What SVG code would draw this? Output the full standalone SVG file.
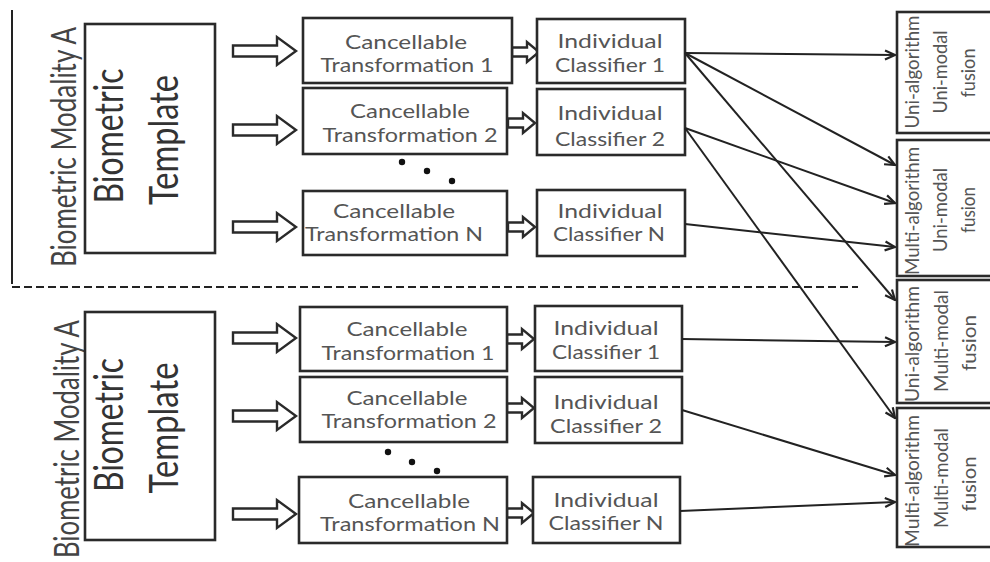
<svg xmlns="http://www.w3.org/2000/svg" width="990" height="562" viewBox="0 0 990 562">
<style>
.box{fill:#fff;stroke:#2a2a2a;stroke-width:2.6}
.barrow{fill:#fff;stroke:#2a2a2a;stroke-width:2.4;stroke-linejoin:miter}
.t{font-family:Lato,"Open Sans","Liberation Sans",sans-serif;font-size:19px;fill:#555;text-anchor:middle}
.big{font-family:Lato,"Open Sans","Liberation Sans",sans-serif;font-size:40px;fill:#333;text-anchor:middle}
.mod{font-family:Lato,"Open Sans","Liberation Sans",sans-serif;font-size:27px;fill:#444;text-anchor:middle}
.f{font-family:Lato,"Open Sans","Liberation Sans",sans-serif;font-size:19px;fill:#555;text-anchor:middle}
.conn{stroke:#222;stroke-width:2;fill:none;marker-end:url(#ah)}
.dot{fill:#111}
</style>
<defs>
<marker id="ah" viewBox="0 0 12 12" refX="11" refY="6" markerWidth="12" markerHeight="12" markerUnits="userSpaceOnUse" orient="auto">
<path d="M1,1.5 L11,6 L1,10.5" fill="none" stroke="#222" stroke-width="2.2"/>
</marker>
<path id="bigArrow" class="barrow" d="M0,-5.5 L44,-5.5 L44,-14 L63,0 L44,14 L44,5.5 L0,5.5 Z"/>
<path id="smallArrow" class="barrow" d="M0,-4.5 L15,-4.5 L15,-10 L27,0 L15,10 L15,4.5 L0,4.5 Z"/>
</defs>
<rect width="990" height="562" fill="#fff"/>

<g id="frame">
<line x1="12" y1="10" x2="12" y2="284" stroke="#222" stroke-width="2"/>
<line x1="12" y1="287" x2="858" y2="287" stroke="#222" stroke-width="2" stroke-dasharray="8,4"/>
</g>

<g id="labels">
<text class="mod" transform="translate(76,147) rotate(-90) scale(1,1.3)" textLength="240" lengthAdjust="spacingAndGlyphs">Biometric Modality A</text>
<text class="mod" transform="translate(79,439) rotate(-90) scale(1,1.3)" textLength="238" lengthAdjust="spacingAndGlyphs">Biometric Modality A</text>
</g>

<g id="template-top">
<rect class="box" x="85" y="24" width="130" height="229"/>
<text class="big" transform="translate(123,136) rotate(-90)" textLength="135" lengthAdjust="spacingAndGlyphs">Biometric</text>
<text class="big" transform="translate(178,140) rotate(-90)" textLength="130" lengthAdjust="spacingAndGlyphs">Template</text>
</g>
<g id="template-bottom">
<rect class="box" x="85" y="312" width="130" height="228"/>
<text class="big" transform="translate(123,425) rotate(-90)" textLength="134" lengthAdjust="spacingAndGlyphs">Biometric</text>
<text class="big" transform="translate(178,428) rotate(-90)" textLength="131" lengthAdjust="spacingAndGlyphs">Template</text>
</g>

<g id="block-arrows">
<use href="#bigArrow" x="233" y="51"/>
<use href="#bigArrow" x="233" y="130"/>
<use href="#bigArrow" x="233" y="227"/>
<use href="#bigArrow" x="233" y="338"/>
<use href="#bigArrow" x="233" y="416"/>
<use href="#bigArrow" x="233" y="514"/>
<use href="#smallArrow" x="512" y="52"/>
<use href="#smallArrow" x="508" y="123"/>
<use href="#smallArrow" x="508" y="227"/>
<use href="#smallArrow" x="507" y="339"/>
<use href="#smallArrow" x="507" y="408"/>
<use href="#smallArrow" x="507" y="513"/>
</g>

<g id="ct1-top">
<rect class="box" x="303" y="18" width="209" height="65"/>
<text class="t" x="406" y="49" textLength="122" lengthAdjust="spacingAndGlyphs">Cancellable</text>
<text class="t" x="407" y="72" textLength="173" lengthAdjust="spacingAndGlyphs">Transformation 1</text>
</g>
<g id="ct2-top">
<rect class="box" x="303" y="88" width="204" height="66"/>
<text class="t" x="410" y="118" textLength="120" lengthAdjust="spacingAndGlyphs">Cancellable</text>
<text class="t" x="410" y="142" textLength="175" lengthAdjust="spacingAndGlyphs">Transformation 2</text>
</g>
<g id="ctN-top">
<rect class="box" x="303" y="191" width="204" height="64"/>
<text class="t" x="394" y="218" textLength="122" lengthAdjust="spacingAndGlyphs">Cancellable</text>
<text class="t" x="394" y="241" textLength="178" lengthAdjust="spacingAndGlyphs">Transformation N</text>
</g>
<g id="dots-top">
<circle class="dot" cx="402" cy="162" r="3.2"/>
<circle class="dot" cx="427" cy="171" r="3.2"/>
<circle class="dot" cx="452" cy="181" r="3.2"/>
</g>
<g id="ic1-top">
<rect class="box" x="537" y="19" width="148" height="64"/>
<text class="t" x="610" y="48" textLength="105" lengthAdjust="spacingAndGlyphs">Individual</text>
<text class="t" x="610" y="72" textLength="110" lengthAdjust="spacingAndGlyphs">Classifier 1</text>
</g>
<g id="ic2-top">
<rect class="box" x="537" y="89" width="148" height="66"/>
<text class="t" x="610" y="120" textLength="105" lengthAdjust="spacingAndGlyphs">Individual</text>
<text class="t" x="610" y="146" textLength="110" lengthAdjust="spacingAndGlyphs">Classifier 2</text>
</g>
<g id="icN-top">
<rect class="box" x="537" y="190" width="148" height="66"/>
<text class="t" x="610" y="218" textLength="105" lengthAdjust="spacingAndGlyphs">Individual</text>
<text class="t" x="609" y="241" textLength="112" lengthAdjust="spacingAndGlyphs">Classifier N</text>
</g>

<g id="ct1-bottom">
<rect class="box" x="300" y="307" width="207" height="64"/>
<text class="t" x="407" y="336" textLength="121" lengthAdjust="spacingAndGlyphs">Cancellable</text>
<text class="t" x="408" y="360" textLength="173" lengthAdjust="spacingAndGlyphs">Transformation 1</text>
</g>
<g id="ct2-bottom">
<rect class="box" x="300" y="377" width="207" height="65"/>
<text class="t" x="407" y="405" textLength="121" lengthAdjust="spacingAndGlyphs">Cancellable</text>
<text class="t" x="409" y="428" textLength="175" lengthAdjust="spacingAndGlyphs">Transformation 2</text>
</g>
<g id="ctN-bottom">
<rect class="box" x="299" y="477" width="208" height="66"/>
<text class="t" x="409" y="508" textLength="122" lengthAdjust="spacingAndGlyphs">Cancellable</text>
<text class="t" x="410" y="531" textLength="180" lengthAdjust="spacingAndGlyphs">Transformation N</text>
</g>
<g id="dots-bottom">
<circle class="dot" cx="388" cy="452" r="3.2"/>
<circle class="dot" cx="412" cy="462" r="3.2"/>
<circle class="dot" cx="437" cy="471" r="3.2"/>
</g>
<g id="ic1-bottom">
<rect class="box" x="535" y="306" width="147" height="65"/>
<text class="t" x="606" y="335" textLength="105" lengthAdjust="spacingAndGlyphs">Individual</text>
<text class="t" x="606" y="359" textLength="108" lengthAdjust="spacingAndGlyphs">Classifier 1</text>
</g>
<g id="ic2-bottom">
<rect class="box" x="535" y="377" width="147" height="66"/>
<text class="t" x="606" y="409" textLength="105" lengthAdjust="spacingAndGlyphs">Individual</text>
<text class="t" x="606" y="433" textLength="112" lengthAdjust="spacingAndGlyphs">Classifier 2</text>
</g>
<g id="icN-bottom">
<rect class="box" x="533" y="477" width="147" height="66"/>
<text class="t" x="606" y="507" textLength="105" lengthAdjust="spacingAndGlyphs">Individual</text>
<text class="t" x="606" y="530" textLength="115" lengthAdjust="spacingAndGlyphs">Classifier N</text>
</g>

<g id="fusion-1">
<rect class="box" x="897" y="12" width="110" height="121"/>
<text class="f" transform="translate(919,72) rotate(-90)" textLength="113" lengthAdjust="spacingAndGlyphs">Uni-algorithm</text>
<text class="f" transform="translate(947,72) rotate(-90)" textLength="83" lengthAdjust="spacingAndGlyphs">Uni-modal</text>
<text class="f" transform="translate(975,73) rotate(-90)" textLength="49" lengthAdjust="spacingAndGlyphs">fusion</text>
</g>
<g id="fusion-2">
<rect class="box" x="897" y="140" width="110" height="136"/>
<text class="f" transform="translate(919,211) rotate(-90)" textLength="128" lengthAdjust="spacingAndGlyphs">Multi-algorithm</text>
<text class="f" transform="translate(947,210) rotate(-90)" textLength="84" lengthAdjust="spacingAndGlyphs">Uni-modal</text>
<text class="f" transform="translate(975,210) rotate(-90)" textLength="46" lengthAdjust="spacingAndGlyphs">fusion</text>
</g>
<g id="fusion-3">
<rect class="box" x="897" y="280" width="110" height="123"/>
<text class="f" transform="translate(919,344) rotate(-90)" textLength="116" lengthAdjust="spacingAndGlyphs">Uni-algorithm</text>
<text class="f" transform="translate(948,341) rotate(-90)" textLength="102" lengthAdjust="spacingAndGlyphs">Multi-modal</text>
<text class="f" transform="translate(976,343) rotate(-90)" textLength="56" lengthAdjust="spacingAndGlyphs">fusion</text>
</g>
<g id="fusion-4">
<rect class="box" x="897" y="408" width="110" height="139"/>
<text class="f" transform="translate(919,481) rotate(-90)" textLength="132" lengthAdjust="spacingAndGlyphs">Multi-algorithm</text>
<text class="f" transform="translate(948,478) rotate(-90)" textLength="100" lengthAdjust="spacingAndGlyphs">Multi-modal</text>
<text class="f" transform="translate(976,484) rotate(-90)" textLength="55" lengthAdjust="spacingAndGlyphs">fusion</text>
</g>

<g id="connectors">
<line class="conn" x1="685" y1="53" x2="895" y2="55"/>
<line class="conn" x1="685" y1="53" x2="895" y2="165"/>
<line class="conn" x1="685" y1="53" x2="895" y2="300"/>
<line class="conn" x1="685" y1="128" x2="895" y2="203"/>
<line class="conn" x1="685" y1="128" x2="895" y2="418"/>
<line class="conn" x1="685" y1="224" x2="895" y2="247"/>
<line class="conn" x1="682" y1="339" x2="895" y2="342"/>
<line class="conn" x1="682" y1="410" x2="895" y2="475"/>
<line class="conn" x1="680" y1="511" x2="895" y2="502"/>
</g>
</svg>
